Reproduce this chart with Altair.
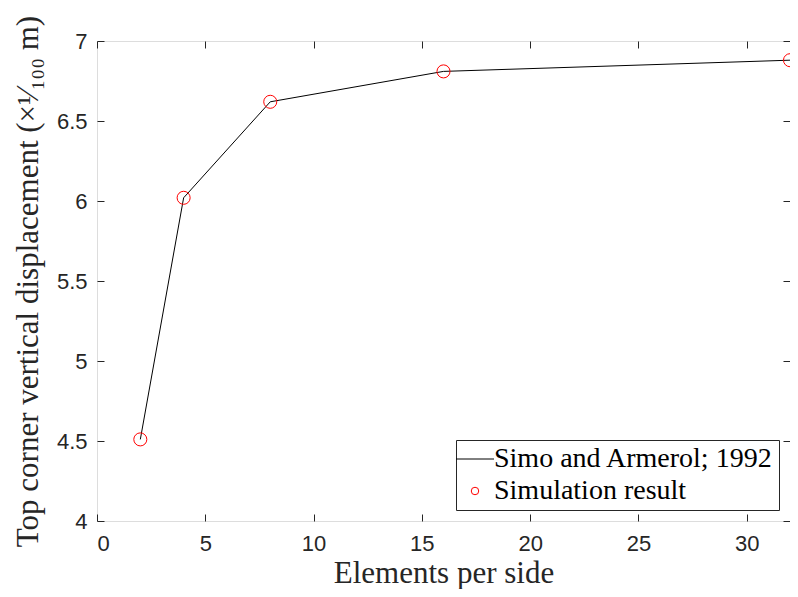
import altair as alt
import pandas as pd

elements = [2, 4, 8, 16, 32]
reference = [4.51, 6.02, 6.62, 6.81, 6.88]
simulation = [4.51, 6.02, 6.62, 6.81, 6.88]
series_names = ["Simo and Armerol; 1992", "Simulation result"]
x_ticks = [0, 5, 10, 15, 20, 25, 30]
y_ticks = [4, 4.5, 5, 5.5, 6, 6.5, 7]

df_line = pd.DataFrame({"x": elements, "y": reference, "series": series_names[0]})
df_pts = pd.DataFrame({"x": elements, "y": simulation, "series": series_names[1]})

serif = "Liberation Serif"
sans = "Liberation Sans"
ink = "#262626"

x_scale = alt.Scale(domain=[0, 32], nice=False, zero=False)
y_scale = alt.Scale(domain=[4, 7], nice=False, zero=False)
color_scale = alt.Scale(domain=series_names, range=["black", "red"])

legend = alt.Legend(
    title=None, orient="bottom-right", offset=11,
    strokeColor=ink, fillColor="white", padding=5,
    labelFont=serif, labelFontSize=28, labelColor="black",
    symbolType=alt.ExprRef(expr="datum.index == 0 ? 'stroke' : 'circle'"),
    symbolSize=alt.ExprRef(expr="datum.index == 0 ? 1444 : 56"),
    symbolStrokeWidth=1, symbolFillColor="transparent",
    rowPadding=4, labelOffset=5, labelLimit=400,
)

line = alt.Chart(df_line).mark_line(strokeWidth=1).encode(
    x=alt.X("x:Q", scale=x_scale, title="Elements per side",
            axis=alt.Axis(orient="bottom", values=x_ticks, offset=-7, tickSize=7,
                          domain=False, grid=False, labelPadding=12, format="~g",
                          labelFont=sans, labelFontSize=22, labelColor=ink,
                          tickColor=ink, titleFont=serif, titleFontSize=31,
                          titleFontWeight="normal", titleColor=ink,
                          titlePadding=4)),
    y=alt.Y("y:Q", scale=y_scale,
            title="Top corner vertical displacement (×¹⁄₁₀₀ m)",
            axis=alt.Axis(orient="left", values=y_ticks, offset=-7, tickSize=7,
                          domain=False, grid=False, labelPadding=10, format="~g",
                          labelFont=sans, labelFontSize=22, labelColor=ink,
                          tickColor=ink, titleFont=serif, titleFontSize=31,
                          titleFontWeight="normal", titleColor=ink,
                          titlePadding=12)),
    color=alt.Color("series:N", scale=color_scale, legend=legend),
)

points = alt.Chart(df_pts).mark_point(size=170, filled=False, strokeWidth=1, opacity=1).encode(
    x=alt.X("x:Q", scale=x_scale, title=None,
            axis=alt.Axis(orient="top", values=x_ticks, offset=-7, tickSize=7,
                          domain=False, grid=False, labels=False, tickColor=ink)),
    y=alt.Y("y:Q", scale=y_scale, title=None,
            axis=alt.Axis(orient="right", values=y_ticks, offset=-7, tickSize=7,
                          domain=False, grid=False, labels=False, tickColor=ink)),
    color=alt.Color("series:N", scale=color_scale, legend=legend),
)

chart = alt.layer(line, points).resolve_axis(x="independent", y="independent").properties(
    width=693, height=480,
    autosize=alt.AutoSizeParams(type="none"),
    padding={"left": 89, "top": 33, "right": 0, "bottom": 68},
).configure_view(stroke=ink, strokeWidth=1).configure(background="white")

chart.save("out.html", embed_options={"renderer": "svg", "actions": False})
